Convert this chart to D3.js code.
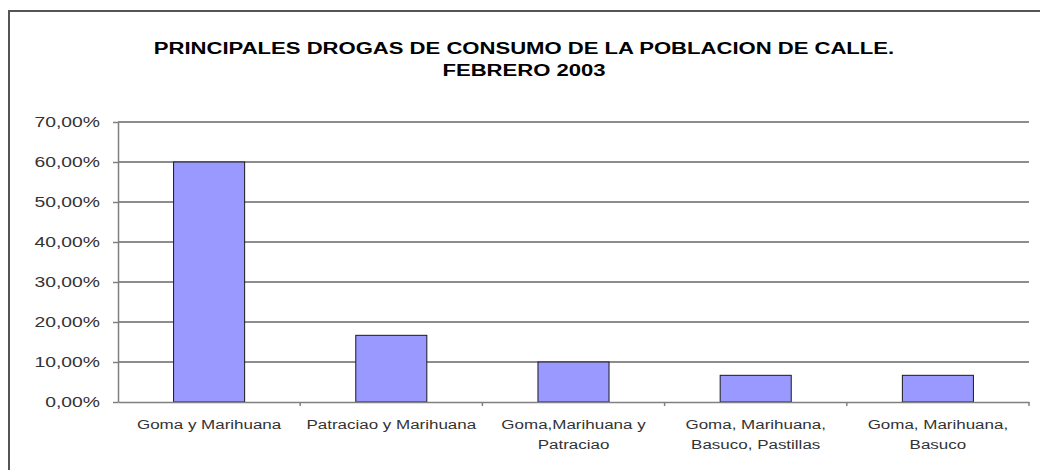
<!DOCTYPE html>
<html>
<head>
<meta charset="utf-8">
<script src="https://cdn.jsdelivr.net/npm/d3@7"></script>
<style>
  body { margin: 0; background: #fff; }
  svg { display: block; }
  text { font-family: Arial, "Liberation Sans", Helvetica, sans-serif; }
</style>
</head>
<body>
<svg id="chart" width="1040" height="470"></svg>
<script>
const titleLines = ["PRINCIPALES DROGAS DE CONSUMO DE LA POBLACION DE CALLE.", "FEBRERO 2003"];
const categories = ["Goma y Marihuana", "Patraciao y Marihuana", "Goma,Marihuana y Patraciao", "Goma, Marihuana, Basuco, Pastillas", "Goma, Marihuana, Basuco"];
const categoryLines = [["Goma y Marihuana"], ["Patraciao y Marihuana"], ["Goma,Marihuana y", "Patraciao"], ["Goma, Marihuana,", "Basuco, Pastillas"], ["Goma, Marihuana,", "Basuco"]];
const values = [0.60, 0.1667, 0.10, 0.0667, 0.0667];
const yTicks = [0, 0.1, 0.2, 0.3, 0.4, 0.5, 0.6, 0.7];

const S = 1.38; // horizontal stretch of the original picture's text
const svg = d3.select("#chart");
const W = 1040, H = 470;
const m = { left: 118, right: 1029, top: 122, bottom: 402 };

svg.append("rect").attr("width", W).attr("height", H).attr("fill", "#fff");

// outer frame
svg.append("path")
  .attr("d", `M9,${H} L9,11 L${W},11`)
  .attr("fill", "none").attr("stroke", "#555").attr("stroke-width", 2);

// title
titleLines.forEach((t, i) => {
  svg.append("g").attr("transform", `translate(524,${54 + i * 22}) scale(${S},1)`)
    .append("text").attr("text-anchor", "middle")
    .attr("font-size", 16).attr("font-weight", "bold").attr("fill", "#000")
    .text(t);
});

const x = d3.scaleBand().domain(categories).range([m.left, m.right]).padding(0);
const y = d3.scaleLinear().domain([0, 0.7]).range([m.bottom, m.top]);

const fmt = v => (v * 100).toFixed(2).replace(".", ",") + "%";

// gridlines
svg.append("g").selectAll("line").data(yTicks.slice(1)).join("line")
  .attr("x1", m.left).attr("x2", m.right)
  .attr("y1", d => y(d)).attr("y2", d => y(d))
  .attr("stroke", "#1a1a1a").attr("stroke-width", 1);

// bars
const barFrac = 0.39;
svg.append("g").selectAll("rect").data(values).join("rect")
  .attr("x", (d, i) => x(categories[i]) + x.bandwidth() * (1 - barFrac) / 2)
  .attr("width", x.bandwidth() * barFrac)
  .attr("y", d => y(d))
  .attr("height", d => y(0) - y(d))
  .attr("fill", "#9999FF").attr("stroke", "#1a1a1a").attr("stroke-width", 1);

// y axis
const yAxis = svg.append("g").attr("transform", `translate(${m.left},0)`)
  .call(d3.axisLeft(y).tickValues(yTicks).tickFormat(fmt).tickSize(5).tickSizeOuter(0));
yAxis.select(".domain").attr("stroke", "#808080").attr("stroke-width", 1.5);
yAxis.selectAll(".tick line").attr("stroke", "#808080").attr("stroke-width", 1.5);
yAxis.selectAll(".tick text")
  .attr("font-size", 14).attr("fill", "#333")
  .attr("x", -18 / S).attr("dy", "0.35em")
  .attr("transform", `scale(${S},1)`);

// x axis
const xAxis = svg.append("g").attr("transform", `translate(0,${m.bottom})`)
  .call(d3.axisBottom(x).tickSize(0).tickFormat(""));
xAxis.select(".domain").attr("stroke", "#808080").attr("stroke-width", 1.5);
xAxis.selectAll(".tick").remove();
const bounds = categories.map(c => x(c) + x.bandwidth());
xAxis.selectAll("line.sep").data(bounds).join("line").attr("class", "sep")
  .attr("x1", d => d).attr("x2", d => d).attr("y1", 0).attr("y2", 4)
  .attr("stroke", "#808080").attr("stroke-width", 1.5);

// category labels
const labG = svg.append("g");
categoryLines.forEach((lines, i) => {
  const cx = x(categories[i]) + x.bandwidth() / 2;
  lines.forEach((ln, j) => {
    labG.append("g").attr("transform", `translate(${cx},${429 + j * 20}) scale(${S},1)`)
      .append("text").attr("text-anchor", "middle")
      .attr("font-size", 12.3).attr("fill", "#333").text(ln);
  });
});
</script>
</body>
</html>
